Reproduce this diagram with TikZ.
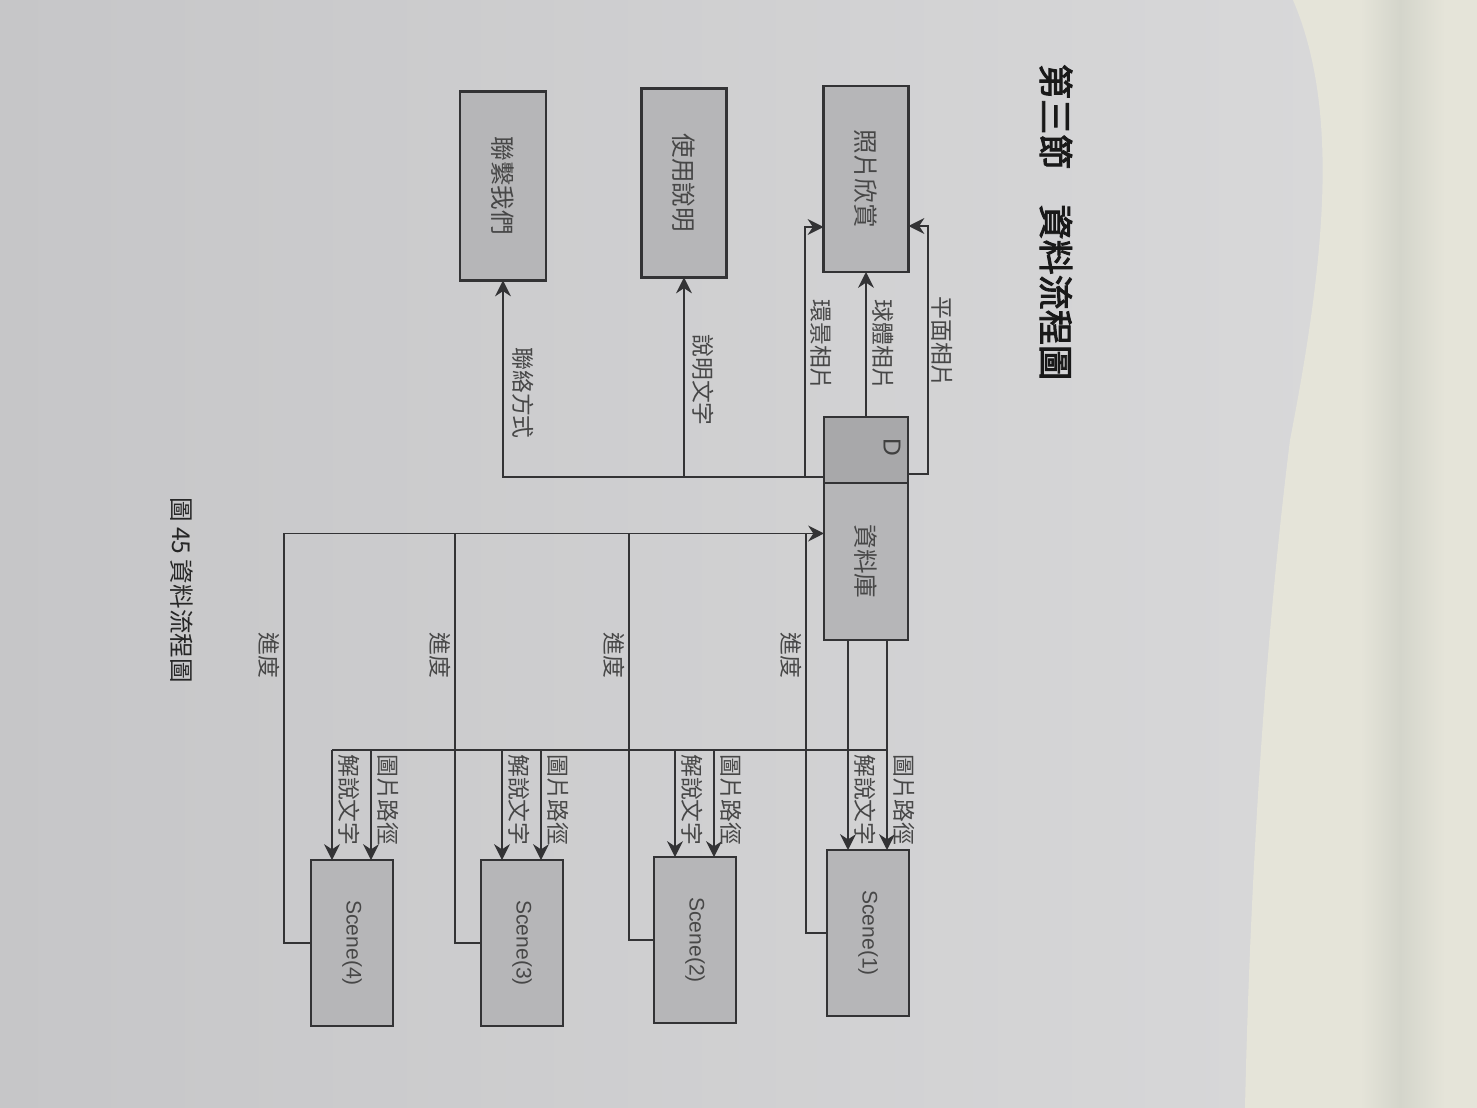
\documentclass[tikz,border=0pt]{standalone}
\usepackage{fontspec}
\usepackage{graphicx}
\usepackage{xcolor}
\usepackage{tikz}
\usetikzlibrary{arrows.meta,calc,positioning}
\setmainfont{Liberation Sans}
\newfontfamily\cjk{Noto Sans CJK TC}
\newfontfamily\cjkbold[FakeBold=2.5]{Noto Sans CJK TC}
\definecolor{pagegray}{HTML}{C6C6C8}
\definecolor{pagelight}{HTML}{DADADB}
\definecolor{boxgray}{HTML}{B6B6B8}
\definecolor{taggray}{HTML}{A8A8AA}
\definecolor{inkgray}{HTML}{333335}
\definecolor{cream}{HTML}{E5E4D9}
\definecolor{creamdark}{HTML}{D4D5CB}
\newcommand{\vtext}[1]{\rotatebox{-90}{#1}}

\begin{document}
\begin{tikzpicture}[x=0.02cm,y=-0.02cm,line width=1.1pt,draw=inkgray]
\tikzstyle{block} = [draw=inkgray, line width=1.4pt, fill=boxgray, text=black!72, inner sep=0pt, outer sep=0pt, font=\cjk\fontsize{14}{14}\selectfont]
\tikzstyle{scenebox} = [block, minimum width=1.64cm, minimum height=3.32cm, font=\fontsize{12}{12}\selectfont]
\tikzstyle{lbl} = [inner sep=1pt, text=black!72, font=\cjk\fontsize{13}{13}\selectfont]
\tikzstyle{flow} = [-{Stealth[length=9pt,width=9pt]}]

% page
\useasboundingbox (0,0) rectangle (1477,1108);
\shade[left color=pagegray, right color=pagelight] (0,0) rectangle (1477,1108);
\fill[cream] (1293,0) .. controls (1340,110) and (1325,260) .. (1290,440)
  .. controls (1265,640) and (1250,880) .. (1245,1108) -- (1477,1108) -- (1477,0) -- cycle;
\shade[left color=cream, right color=creamdark] (1360,0) rectangle (1400,1108);
\shade[left color=creamdark, right color=cream] (1400,0) rectangle (1445,1108);

% boxes
\node[block, minimum width=1.7cm, minimum height=3.72cm] (photo) at (866,179) {\vtext{照片欣賞}};
\node[block, minimum width=1.7cm, minimum height=3.78cm] (guide) at (684,183) {\vtext{使用說明}};
\node[block, minimum width=1.72cm, minimum height=3.78cm] (contact) at (503,186) {\vtext{聯繫我們}};
\node[block, fill=taggray, minimum width=1.68cm, minimum height=1.32cm] (dtag) at (866,450) {};
\node[font=\fontsize{14}{14}\selectfont, text=black!75] (dmark) at ($(dtag.east)+(-16,-3)$) {\vtext{D}};
\node[block, below=0pt of dtag, minimum width=1.68cm, minimum height=3.14cm] (dbase) {\vtext{資料庫}};
\foreach \i/\x/\y in {1/868/933, 2/695/940, 3/522/943, 4/352/943}
  \node[scenebox] (scene\i) at (\x,\y) {\vtext{Scene(\i)}};

% photo links
\coordinate (dout) at ($(dtag.south west)+(0,-6)$);
\draw[flow] ($(dtag.south east)+(0,-9)$) -- ++(20,0) |- ($(photo.east)+(0,47)$);
\draw[flow] (dtag.north) -- (photo.south);
\draw[flow] (dout) -- ++(-19,0) |- ($(photo.west)+(0,48)$);
\draw[flow] (dout) -| (guide.south);
\draw[flow] (dout) -| (contact.south);
\node[lbl] (lflat) at (942,342) {\vtext{平面相片}};
\node[lbl] (lball) at (883,345) {\vtext{球體相片}};
\node[lbl] (lpano) at (821,345) {\vtext{環景相片}};
\node[lbl] (ltext) at (703,380) {\vtext{說明文字}};
\node[lbl] (lmail) at (523,393) {\vtext{聯絡方式}};

% progress back to the database
\coordinate (prog) at ($(dbase.west)+(0,-28)$);
\foreach \i/\d in {1/21,2/25,3/26,4/27} {
  \draw (scene\i.west) -- ++(-\d,0) coordinate (c\i) -- (c\i |- prog);
  \node[lbl] (prog\i) at ($(c\i |- 0,655)+(-15,0)$) {\vtext{進度}};
}
\draw[flow] (c4 |- prog) -- (prog);

% paths and texts to the scenes
\coordinate (busr) at ($(dbase.south)+(21,110)$);
\draw (dbase.south) ++(21,0) -- (busr);
\draw ($(dbase.south)+(-18,0)$) -- ++(0,110);
\foreach \i in {1,2,3,4} {
  \coordinate (a\i) at ($(scene\i.north)+(-20,0)$);
  \coordinate (b\i) at ($(scene\i.north)+(19,0)$);
  \draw[flow] (a\i |- busr) -- (a\i);
  \draw[flow] (b\i |- busr) -- (b\i);
  \node[lbl] (note\i) at ($(a\i |- busr)+(17,50)$) {\vtext{解說文字}};
  \node[lbl] (path\i) at ($(b\i |- busr)+(17,50)$) {\vtext{圖片路徑}};
}
\draw (busr) -- (a4 |- busr);

% title and caption
\node[font=\cjkbold\fontsize{20}{20}\selectfont, text=black!90] (title) at (1056,222) {\vtext{第三節　資料流程圖}};
\node[font=\cjk\fontsize{14}{14}\selectfont, text=black!85] (caption) at (182,590) {\vtext{圖 45 資料流程圖}};
\end{tikzpicture}
\end{document}
